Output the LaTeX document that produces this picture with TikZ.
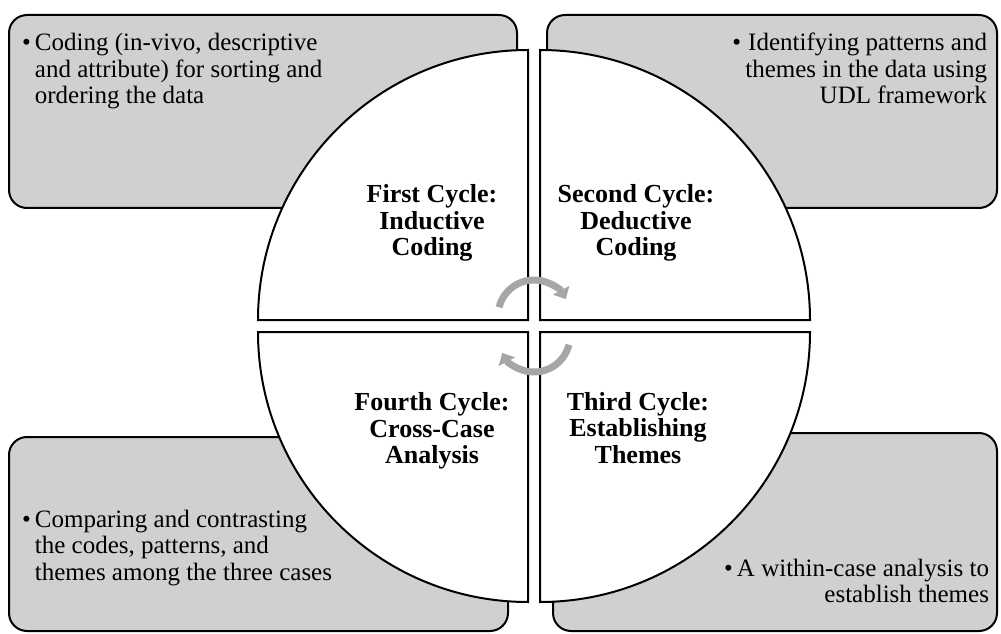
\documentclass[tikz,border=0pt]{standalone}
\usepackage{fontspec}
\setmainfont{Liberation Serif}
\usetikzlibrary{arrows.meta}

\definecolor{boxgray}{RGB}{208,208,208}
\definecolor{arrgray}{RGB}{166,166,166}

\begin{document}
\begin{tikzpicture}[x=1pt,y=1pt,line width=2pt]
  \tikzset{box/.style={draw=black, fill=boxgray, rounded corners=18pt},
           quad/.style={draw=black, fill=white},
           note/.style={inner sep=0pt, font=\fontsize{25}{26.5}\selectfont},
           cyc/.style={inner sep=0pt, align=center, font=\fontsize{26}{26.5}\selectfont\bfseries},
           turn/.style={draw=arrgray, line width=7pt, -{Triangle[width=18pt,length=10pt]}}}
  \useasboundingbox (0,0) rectangle (1001,633);
  % grey boxes
  \path[box] (9,425) rectangle (517,618);
  \path[box] (547,425) rectangle (997,618);
  \path[box] (9,2) rectangle (508,196);
  \path[box] (553,2) rectangle (997,200);
  % quarters of the circle
  \path[quad] (528,313) -- (258,313) arc[start angle=180, end angle=90, radius=270] -- cycle;
  \path[quad] (540,313) -- (540,583) arc[start angle=90, end angle=0, radius=270] -- cycle;
  \path[quad] (528,301) -- (528,31) arc[start angle=270, end angle=180, radius=270] -- cycle;
  \path[quad] (540,301) -- (540,31) arc[start angle=270, end angle=360, radius=270] -- cycle;
  % turning arrows
  \draw[turn] (534,317) ++(166:36) arc[start angle=166, end angle=28, radius=36];
  \draw[turn] (534,297) ++(-14:36) arc[start angle=-14, end angle=-152, radius=36];
  % box texts
  \node[note, anchor=base west] (a) at (21,582) {\begin{tabular}[t]{@{}l@{\,}l@{}}\textbullet & Coding (in-vivo, descriptive\\ & and attribute) for sorting and\\ & ordering the data\end{tabular}};
  \node[note, anchor=base east] (b) at (988,582) {\begin{tabular}[t]{@{}l@{\,}r@{}}\textbullet & Identifying patterns and\\ & themes in the data using\\ & UDL framework\end{tabular}};
  \node[note, anchor=base west] (c) at (21,106) {\begin{tabular}[t]{@{}l@{\,}l@{}}\textbullet & Comparing and contrasting\\ & the codes, patterns, and\\ & themes among the three cases\end{tabular}};
  \node[note, anchor=base east] (d) at (990,57) {\begin{tabular}[t]{@{}l@{\,}r@{}}\textbullet & A within-case analysis to\\ & establish themes\end{tabular}};
  % cycle labels
  \node[cyc] (A) at (432,410) {First Cycle:\\Inductive\\Coding};
  \node[cyc] (B) at (636,410) {Second Cycle:\\Deductive\\Coding};
  \node[cyc] (C) at (638,205) {Third Cycle:\\Establishing\\Themes};
  \node[cyc] (D) at (432,202) {Fourth Cycle:\\Cross-Case\\Analysis};
\end{tikzpicture}
\end{document}
